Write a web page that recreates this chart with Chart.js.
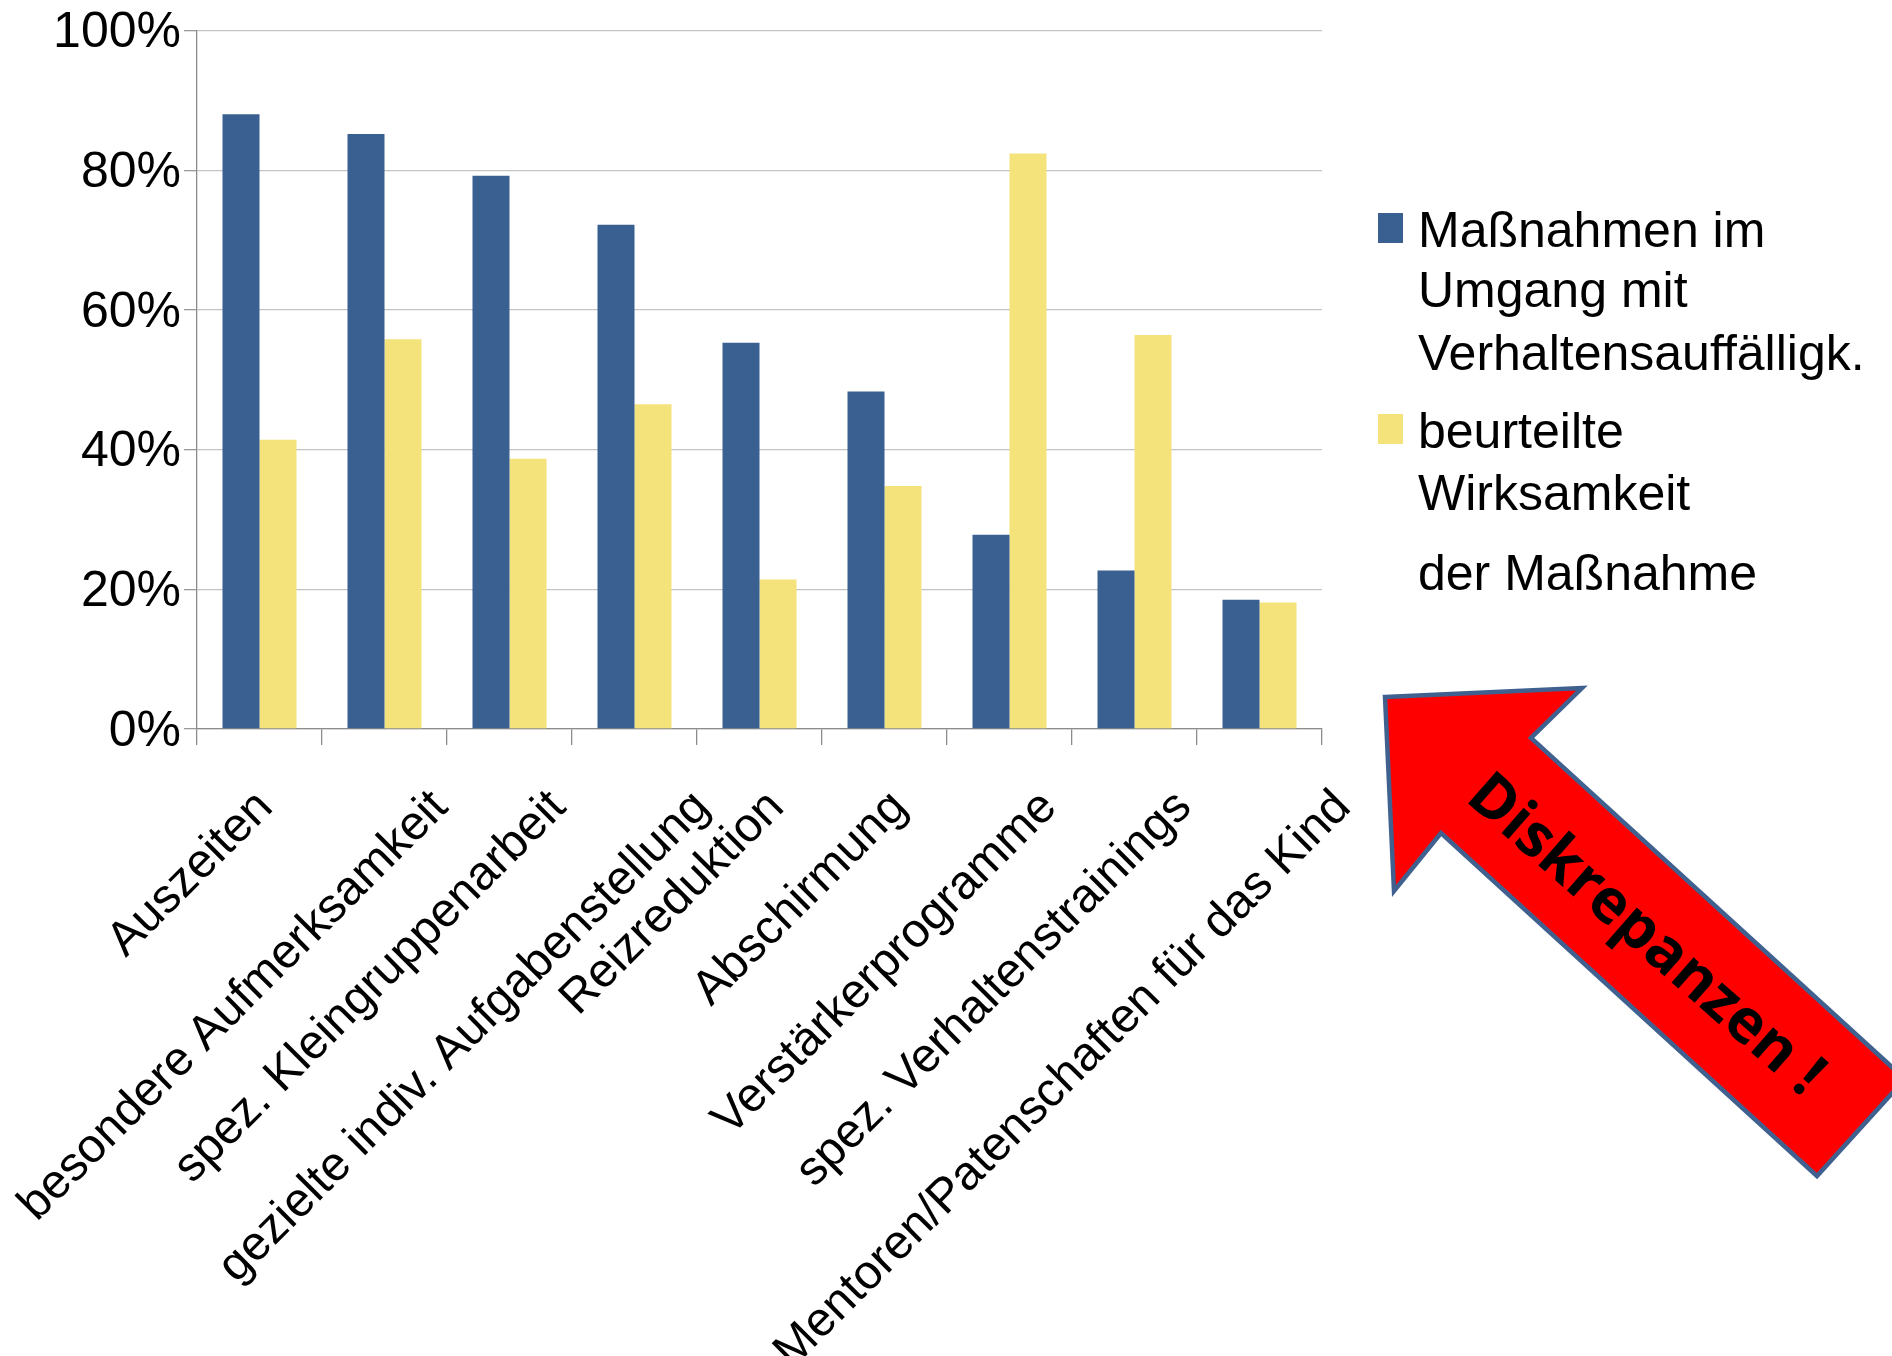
<!DOCTYPE html>
<html>
<head>
<meta charset="utf-8">
<script src="https://cdn.jsdelivr.net/npm/chart.js@4.4.1/dist/chart.umd.min.js"></script>
<style>
  html, body { margin: 0; padding: 0; background: #ffffff; }
  canvas { display: block; }
</style>
</head>
<body>
<canvas id="chart" width="1892" height="1356"></canvas>
<script>
// Kategorien (Maßnahmen) auf der x-Achse
const categories = [
  'Auszeiten',
  'besondere Aufmerksamkeit',
  'spez. Kleingruppenarbeit',
  'gezielte indiv. Aufgabenstellung',
  'Reizreduktion',
  'Abschirmung',
  'Verstärkerprogramme',
  'spez. Verhaltenstrainings',
  'Mentoren/Patenschaften für das Kind'
];

// Anteil der eingesetzten Maßnahmen (%)
const massnahmen = [88.0, 85.2, 79.2, 72.2, 55.3, 48.3, 27.8, 22.7, 18.5];

// beurteilte Wirksamkeit der Maßnahme (%)
const wirksamkeit = [41.4, 55.8, 38.7, 46.5, 21.4, 34.8, 82.4, 56.4, 18.1];

// Reihennamen und ihr Zeilenumbruch in der Legende
const seriesNames = [
  'Maßnahmen im Umgang mit Verhaltensauffälligk.',
  'beurteilte Wirksamkeit der Maßnahme'
];
const legendLines = [
  ['Maßnahmen im', 'Umgang mit', 'Verhaltensauffälligk.'],
  ['beurteilte', 'Wirksamkeit', 'der Maßnahme']
];

// y-Achse: 0 % bis 100 % in 20er-Schritten
const yMin = 0;
const yMax = 100;
const yStep = 20;

const calloutText = 'Diskrepanzen !';

const seriesColors = ['#3A6091', '#F4E27A'];
const FONT = '"Liberation Sans", Arial, Helvetica, sans-serif';

// Schräge Kategorienbeschriftung unter der x-Achse
const slantedLabels = {
  id: 'slantedLabels',
  afterDraw(chart) {
    const ctx = chart.ctx;
    const xs = chart.scales.x;
    ctx.save();
    ctx.font = '48px ' + FONT;
    ctx.fillStyle = '#000000';
    ctx.textAlign = 'right';
    ctx.textBaseline = 'alphabetic';
    chart.data.labels.forEach((lab, i) => {
      const x = xs.getPixelForTick(i);
      const w = ctx.measureText(lab).width;
      ctx.save();
      ctx.translate(x - 13 + 0.134 * w, xs.top + 80);
      ctx.rotate(-Math.PI / 4);
      ctx.fillText(lab, 0, 0);
      ctx.restore();
    });
    ctx.restore();
  }
};

// Legende rechts neben dem Diagramm, mehrzeilig
const sideLegend = {
  id: 'sideLegend',
  afterDraw(chart) {
    const ctx = chart.ctx;
    const area = chart.chartArea;
    const boxX = area.right + 56;
    const textX = area.right + 96;
    const baselines = [[247, 307, 370], [448, 510, 590]];
    ctx.save();
    ctx.font = '50px ' + FONT;
    ctx.textAlign = 'left';
    ctx.textBaseline = 'alphabetic';
    chart.data.datasets.forEach((ds, i) => {
      const lines = legendLines[i];
      const bl = baselines[i];
      ctx.fillStyle = ds.backgroundColor;
      ctx.fillRect(boxX, bl[0] - 34, 25, 30);
      ctx.fillStyle = '#000000';
      lines.forEach((t, j) => ctx.fillText(t, textX, bl[j]));
    });
    ctx.restore();
  }
};

// Roter Hinweispfeil mit Beschriftung
const calloutArrow = {
  id: 'calloutArrow',
  afterDraw(chart) {
    const ctx = chart.ctx;
    const pts = [
      [1385, 697],   // Spitze
      [1582, 688],
      [1531, 738],
      [1905, 1079],
      [1817, 1176],
      [1441, 833],
      [1394, 891]
    ];
    ctx.save();
    ctx.beginPath();
    pts.forEach((p, i) => i ? ctx.lineTo(p[0], p[1]) : ctx.moveTo(p[0], p[1]));
    ctx.closePath();
    ctx.fillStyle = '#FF0000';
    ctx.fill();
    ctx.lineWidth = 4.5;
    ctx.lineJoin = 'miter';
    ctx.strokeStyle = '#40618F';
    ctx.stroke();

    const angle = Math.atan2(1098 - 800, 1803 - 1464);
    const target = 451;
    ctx.font = 'bold 60px "Open Sans", "DejaVu Sans", sans-serif';
    const size = 60 * target / ctx.measureText(calloutText).width;
    ctx.font = 'bold ' + size.toFixed(1) + 'px "Open Sans", "DejaVu Sans", sans-serif';
    ctx.translate(1464, 800);
    ctx.rotate(angle);
    ctx.fillStyle = '#000000';
    ctx.textAlign = 'left';
    ctx.textBaseline = 'alphabetic';
    ctx.fillText(calloutText, 0, 0);
    ctx.restore();
  }
};

new Chart(document.getElementById('chart'), {
  type: 'bar',
  data: {
    labels: categories,
    datasets: [
      { label: seriesNames[0], data: massnahmen, backgroundColor: seriesColors[0] },
      { label: seriesNames[1], data: wirksamkeit, backgroundColor: seriesColors[1] }
    ]
  },
  options: {
    responsive: false,
    devicePixelRatio: 1,
    animation: false,
    layout: { padding: { top: 28, right: 570, bottom: 0, left: 0 } },
    datasets: {
      bar: { categoryPercentage: 0.592, barPercentage: 1.0, borderWidth: 0 }
    },
    plugins: {
      legend: { display: false },
      tooltip: { enabled: false },
      title: { display: false }
    },
    scales: {
      x: {
        afterFit(scale) { scale.height = 627; },
        grid: {
          offset: true,
          drawOnChartArea: false,
          drawTicks: true,
          tickLength: 16,
          tickColor: '#8C8C8C',
          lineWidth: 1.3
        },
        border: { display: true, color: '#8C8C8C', width: 1.3 },
        ticks: { display: false }
      },
      y: {
        min: yMin,
        max: yMax,
        afterFit(scale) { scale.width = 197; },
        grid: {
          color: '#C4C4C4',
          lineWidth: 1.3,
          tickLength: 13,
          tickColor: '#9A9A9A'
        },
        border: { display: true, color: '#8C8C8C', width: 1.3 },
        ticks: {
          stepSize: yStep,
          padding: 3,
          labelOffset: 3,
          color: '#000000',
          font: { family: FONT, size: 50, lineHeight: 1.1 },
          callback: v => v + '%'
        }
      }
    }
  },
  plugins: [slantedLabels, sideLegend, calloutArrow]
});
</script>
</body>
</html>
